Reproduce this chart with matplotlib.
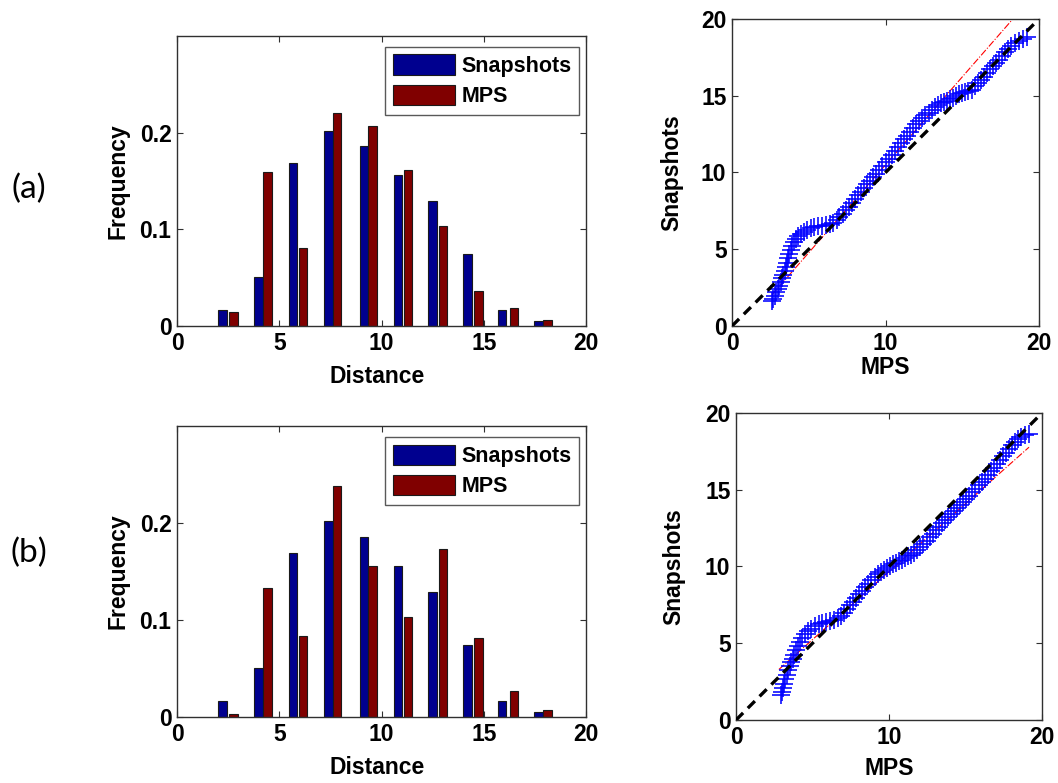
import matplotlib
matplotlib.use("Agg")
import matplotlib.pyplot as plt

plt.rcParams['font.family'] = ['Liberation Sans', 'DejaVu Sans']

# ---- histogram data: bin centres and relative frequencies ----
snap_centres = [2.22, 3.98, 5.68, 7.40, 9.15, 10.80, 12.50, 14.20, 15.90, 17.68]
mps_centres = [2.77, 4.43, 6.17, 7.83, 9.57, 11.30, 13.00, 14.73, 16.47, 18.12]

snap_freq = [0.016, 0.051, 0.169, 0.202, 0.186, 0.156, 0.129, 0.074, 0.017, 0.005]
mps_freq_a = [0.014, 0.159, 0.081, 0.220, 0.207, 0.161, 0.103, 0.036, 0.019, 0.006]
mps_freq_b = [0.003, 0.133, 0.083, 0.238, 0.156, 0.103, 0.173, 0.081, 0.027, 0.007]

# ---- quantile-quantile data (MPS quantiles vs. snapshot quantiles) ----
qq_mps_a = [2.60, 2.69, 2.78, 2.88, 2.98, 3.08, 3.18, 3.27, 3.35, 3.42, 3.50, 3.57,
            3.65, 3.73, 3.82, 3.92, 4.03, 4.15, 4.30, 4.48, 4.68, 4.90, 5.12, 5.35,
            5.60, 5.85, 6.10, 6.35, 6.60, 6.82, 7.00, 7.20, 7.40, 7.60, 7.80, 8.00,
            8.20, 8.40, 8.60, 8.80, 9.00, 9.20, 9.40, 9.60, 9.80, 10.00, 10.20, 10.40,
            10.60, 10.80, 11.00, 11.20, 11.40, 11.60, 11.80, 12.00, 12.20, 12.40, 12.60,
            12.80, 13.00, 13.20, 13.40, 13.60, 13.80, 14.00, 14.20, 14.40, 14.60, 14.80,
            15.00, 15.20, 15.40, 15.60, 15.80, 16.00, 16.20, 16.40, 16.60, 16.80, 17.00,
            17.20, 17.40, 17.60, 17.80, 18.00, 18.20, 18.45, 18.70, 18.95, 19.20]
qq_snap_a = [1.65, 1.75, 1.95, 2.20, 2.40, 2.60, 2.85, 3.10, 3.35, 3.60, 3.85, 4.10,
             4.40, 4.70, 4.95, 5.20, 5.45, 5.65, 5.85, 6.00, 6.12, 6.25, 6.35, 6.42,
             6.48, 6.52, 6.56, 6.62, 6.72, 6.88, 7.10, 7.32, 7.55, 7.78, 8.02, 8.26,
             8.50, 8.74, 8.98, 9.22, 9.46, 9.70, 9.93, 10.16, 10.40, 10.65, 10.90, 11.15,
             11.40, 11.65, 11.90, 12.15, 12.40, 12.65, 12.90, 13.13, 13.35, 13.55, 13.73,
             13.90, 14.08, 14.25, 14.38, 14.50, 14.60, 14.68, 14.78, 14.88, 15.00, 15.10,
             15.18, 15.25, 15.30, 15.40, 15.60, 15.80, 16.02, 16.25, 16.50, 16.73, 16.93,
             17.13, 17.33, 17.58, 17.83, 18.05, 18.25, 18.42, 18.58, 18.72, 18.82]

qq_mps_b = [2.95, 3.00, 3.07, 3.15, 3.23, 3.32, 3.42, 3.52, 3.62, 3.72, 3.82, 3.93,
            4.05, 4.18, 4.33, 4.50, 4.70, 4.92, 5.15, 5.40, 5.65, 5.90, 6.15, 6.40,
            6.65, 6.85, 7.05, 7.25, 7.45, 7.65, 7.85, 8.05, 8.25, 8.45, 8.65, 8.85,
            9.05, 9.25, 9.45, 9.65, 9.85, 10.05, 10.25, 10.45, 10.65, 10.85, 11.05,
            11.25, 11.45, 11.65, 11.85, 12.05, 12.25, 12.45, 12.65, 12.85, 13.05, 13.25,
            13.45, 13.65, 13.85, 14.05, 14.25, 14.45, 14.65, 14.85, 15.05, 15.25, 15.45,
            15.65, 15.85, 16.05, 16.25, 16.45, 16.65, 16.85, 17.05, 17.25, 17.45, 17.65,
            17.85, 18.05, 18.25, 18.45, 18.65, 18.90, 19.15]
qq_snap_b = [1.60, 1.80, 2.05, 2.35, 2.65, 2.95, 3.25, 3.50, 3.75, 4.00, 4.25, 4.55,
             4.85, 5.10, 5.35, 5.57, 5.77, 5.95, 6.10, 6.22, 6.30, 6.36, 6.42, 6.50,
             6.62, 6.80, 7.00, 7.22, 7.46, 7.70, 7.94, 8.18, 8.42, 8.65, 8.88, 9.10,
             9.30, 9.50, 9.66, 9.80, 9.92, 10.04, 10.15, 10.25, 10.35, 10.45, 10.55,
             10.65, 10.76, 10.90, 11.06, 11.24, 11.45, 11.67, 11.90, 12.13, 12.36, 12.58,
             12.80, 13.02, 13.22, 13.42, 13.62, 13.82, 14.02, 14.22, 14.42, 14.62, 14.83,
             15.05, 15.28, 15.50, 15.73, 15.96, 16.20, 16.44, 16.68, 16.92, 17.17, 17.42,
             17.67, 17.90, 18.10, 18.28, 18.45, 18.58, 18.65]

# fitted reference lines (end points) for the two QQ plots
ref_a_x = [2.60, 19.30]
ref_a_y = [2.03, 21.15]
ref_b_x = [2.80, 19.15]
ref_b_y = [3.29, 17.77]

BLUE = '#00008f'
RED = '#800000'
TICK_FS = 16.5
LABEL_FS = 16.5

fig = plt.figure(figsize=(10.58, 7.83), dpi=100)


def style_axes(ax):
    for sp in ax.spines.values():
        sp.set_linewidth(1.0)
        sp.set_color('#303030')
    ax.tick_params(direction='in', length=4, width=0.8, top=True, right=True,
                   labelsize=TICK_FS, pad=4, colors='#303030', labelcolor='black')
    for lab in ax.get_xticklabels() + ax.get_yticklabels():
        lab.set_fontweight('bold')


def hist_panel(rect, mps_freq):
    ax = fig.add_axes(rect)
    w = 0.42
    ax.bar(snap_centres, snap_freq, width=w, color=BLUE, edgecolor='#1a1a1a',
           linewidth=0.8, label='Snapshots', zorder=2)
    ax.bar(mps_centres, mps_freq, width=w, color=RED, edgecolor='#1a1a1a',
           linewidth=0.8, label='MPS', zorder=2)
    ax.set_xlim(0, 20)
    ax.set_ylim(0, 0.3)
    ax.set_xticks([0, 5, 10, 15, 20])
    ax.set_yticks([0, 0.1, 0.2])
    ax.set_yticklabels(['0', '0.1', '0.2'])
    style_axes(ax)
    ax.set_xlabel('Distance', fontsize=LABEL_FS, fontweight='bold')
    ax.set_ylabel('Frequency', fontsize=LABEL_FS, fontweight='bold')
    ax.xaxis.set_label_coords(0.49, -0.135)
    ax.yaxis.set_label_coords(-0.115, 0.5)
    leg = ax.legend(loc='upper right', prop={'weight': 'bold', 'size': 15.5},
                    frameon=True, fancybox=False, handlelength=2.9, handleheight=1.1,
                    borderpad=0.35, labelspacing=0.35, handletextpad=0.3,
                    borderaxespad=0.0, bbox_to_anchor=(0.983, 0.962))
    leg.get_frame().set_edgecolor('#303030')
    leg.get_frame().set_linewidth(1.0)
    return ax


def qq_panel(rect, mps_q, snap_q, rx, ry, xlabel_y, ylabel_x):
    ax = fig.add_axes(rect)
    ax.plot(rx, ry, color='red', linestyle='-.', linewidth=0.8, zorder=1)
    ax.plot(mps_q, snap_q, linestyle='none', marker='+', markersize=13.5,
            markeredgewidth=1.2, color='#0000ff', alpha=0.95, zorder=2)
    ax.plot([0, 20], [0, 20], color='black', linestyle=(0, (3, 2)), linewidth=2.4,
            zorder=3)
    ax.set_xlim(0, 20)
    ax.set_ylim(0, 20)
    ax.set_xticks([0, 10, 20])
    ax.set_yticks([0, 5, 10, 15, 20])
    style_axes(ax)
    ax.set_xlabel('MPS', fontsize=LABEL_FS, fontweight='bold')
    ax.set_ylabel('Snapshots', fontsize=LABEL_FS, fontweight='bold')
    ax.xaxis.set_label_coords(0.5, xlabel_y)
    ax.yaxis.set_label_coords(ylabel_x, 0.5)
    return ax


hist_panel([0.1673, 0.5837, 0.3866, 0.3704], mps_freq_a)
hist_panel([0.1673, 0.0843, 0.3866, 0.3716], mps_freq_b)
qq_panel([0.6919, 0.5837, 0.2902, 0.3921], qq_mps_a, qq_snap_a, ref_a_x, ref_a_y,
         -0.097, -0.158)
qq_panel([0.6957, 0.0805, 0.2892, 0.3921], qq_mps_b, qq_snap_b, ref_b_x, ref_b_y,
         -0.122, -0.165)

fig.text(29 / 1058, 1 - 189 / 783, '(a)', fontsize=24, family=['Lato', 'DejaVu Sans'],
         ha='center', va='center')
fig.text(29 / 1058, 1 - 553 / 783, '(b)', fontsize=24, family=['Lato', 'DejaVu Sans'],
         ha='center', va='center')

fig.savefig('out.png', dpi=100, facecolor='white')
